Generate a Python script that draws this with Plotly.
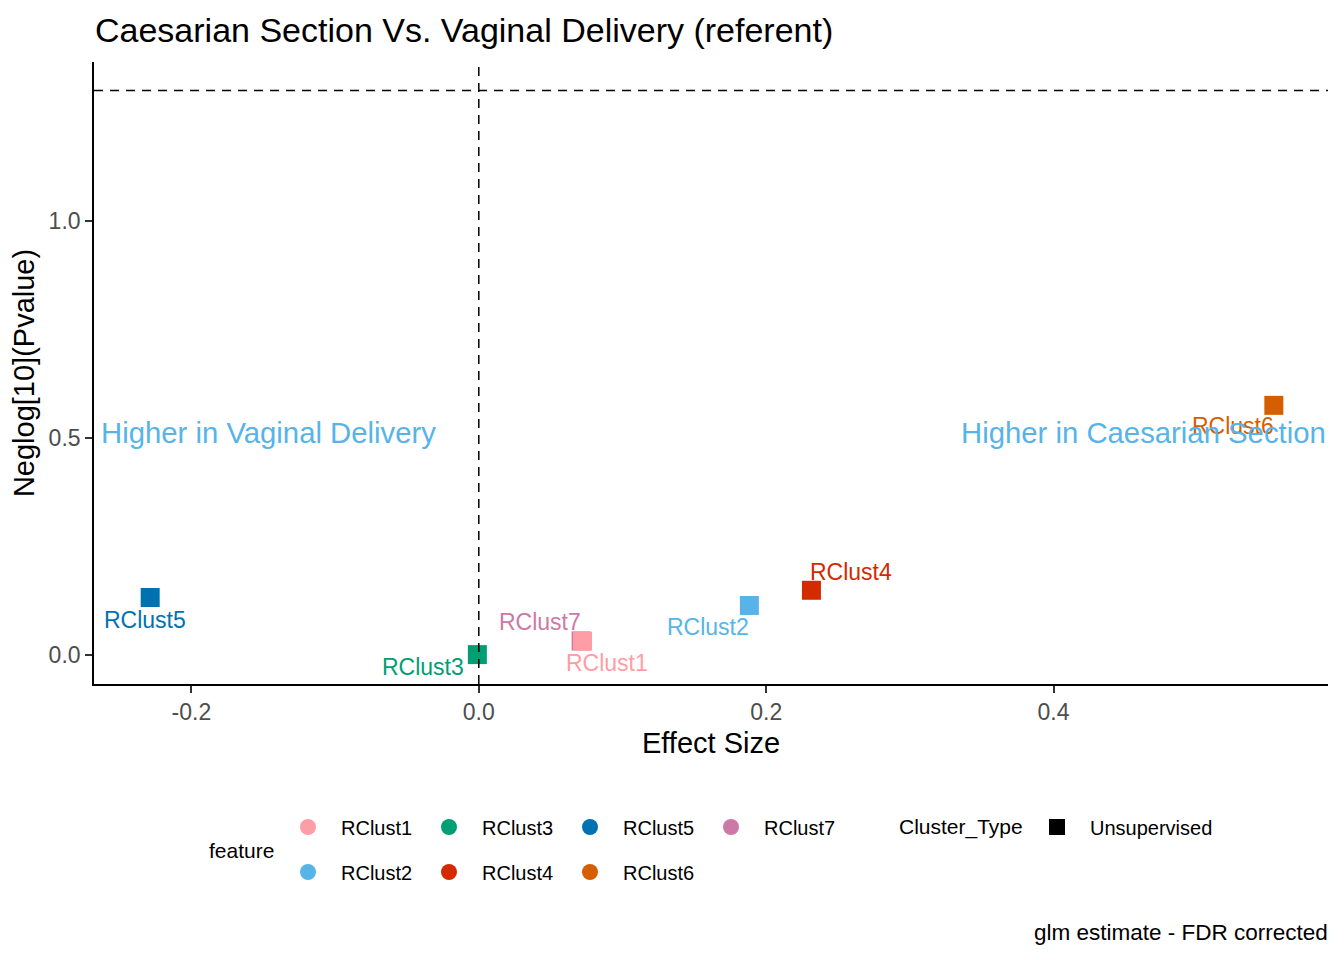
import math
import plotly.graph_objects as go

# glm results per cluster (Caesarian vs vaginal delivery)
features = ["RClust1", "RClust2", "RClust3", "RClust4", "RClust5", "RClust6", "RClust7"]
effect_size = [0.0722, 0.1883, -0.0010, 0.2315, -0.2287, 0.5533, 0.0712]
neglog_p = [0.0325, 0.1147, 0.0015, 0.1497, 0.1330, 0.5757, 0.0330]
cluster_type = ["Unsupervised"] * 7
p_cutoff = 0.05

colors = {
    "RClust1": "#FF9DA7", "RClust2": "#56B4E9", "RClust3": "#009E73",
    "RClust4": "#D42A00", "RClust5": "#0072B2", "RClust6": "#D55E00",
    "RClust7": "#CC79A7",
}

# label nudges in px (x right, y up)
label_shift = {
    "RClust1": (24, -22), "RClust2": (-41, -22), "RClust3": (-54, -12),
    "RClust4": (40, 18), "RClust5": (-5, -22), "RClust6": (-41, -21),
    "RClust7": (-41, 19),
}

FONT = "Liberation Sans, Arial, sans-serif"

# page has an 8px body margin, so the figure is drawn 8px in from the corner
OFF = 8
W, H = 1344 - OFF, 960 - OFF
# plot area in screen px
L, R, T, B = 94, 1328, 62, 684


def px2paper(px, py):
    return (px - L) / (R - L), (B - py) / (B - T)


def px2cont(px, py):
    return (px - OFF) / W, 1 - (py - OFF) / H


fig = go.Figure()

# draw RClust7 first so RClust1 sits on top of it
order = [6, 0, 1, 2, 3, 4, 5]
for i in order:
    f = features[i]
    fig.add_trace(go.Scatter(
        x=[effect_size[i]], y=[neglog_p[i]], mode="markers",
        marker=dict(symbol="square", size=19, color=colors[f], line=dict(width=0)),
        name=f, showlegend=False,
        hovertemplate=f + "<br>%{x:.3f}, %{y:.3f}<extra>" + cluster_type[i] + "</extra>",
    ))

# legend entries (circles, two rows filled column-wise like ggplot)
for i, f in enumerate(features):
    fig.add_trace(go.Scatter(
        x=[None], y=[None], mode="markers",
        marker=dict(symbol="circle", size=18, color=colors[f]),
        name=f, legend="legend" if i % 2 == 0 else "legend2",
    ))
fig.add_trace(go.Scatter(
    x=[None], y=[None], mode="markers",
    marker=dict(symbol="square", size=18, color="black"),
    name=cluster_type[0], legend="legend3",
))

# point labels
for i, f in enumerate(features):
    dx, dy = label_shift[f]
    fig.add_annotation(
        x=effect_size[i], y=neglog_p[i], text=f, showarrow=False,
        xshift=dx, yshift=dy, font=dict(family=FONT, size=23, color=colors[f]),
    )

# reference lines
fig.add_vline(x=0, line=dict(color="black", width=1.5, dash="9px,7px"))
fig.add_hline(y=-math.log10(p_cutoff), line=dict(color="black", width=1.5, dash="9px,7px"))

# direction labels
fig.add_annotation(
    x=-0.264, y=0.513, text="Higher in Vaginal Delivery", showarrow=False,
    xanchor="left", yanchor="middle", font=dict(family=FONT, size=29.3, color="#56B4E9"),
)
fig.add_annotation(
    x=0.591, y=0.513, text="Higher in Caesarian Section", showarrow=False,
    xanchor="right", yanchor="middle", font=dict(family=FONT, size=29.3, color="#56B4E9"),
)

# legend titles and caption
for txt, (px, py), anchor, size in [
    ("feature", (207, 850), "left", 21),
    ("Cluster_Type", (897, 827), "left", 21),
    ("glm estimate - FDR corrected", (1330, 933), "right", 22.5),
]:
    ax, ay = px2paper(px, py)
    fig.add_annotation(
        x=ax, y=ay, xref="paper", yref="paper", text=txt, showarrow=False,
        xanchor=anchor, yanchor="middle", font=dict(family=FONT, size=size, color="black"),
    )

leg = dict(orientation="h", xref="container", yref="container", xanchor="left",
           yanchor="middle", font=dict(family=FONT, size=20, color="black"),
           bgcolor="rgba(0,0,0,0)", entrywidth=70, itemwidth=56, itemclick=False)

lx1, ly1 = px2cont(308 - 33, 827)
lx2, ly2 = px2cont(308 - 33, 872)
lx3, ly3 = px2cont(1057 - 33, 827)

fig.update_layout(
    width=W, height=H,
    margin=dict(l=L - OFF, r=W - (R - OFF), t=T - OFF, b=H - (B - OFF)),
    plot_bgcolor="white", paper_bgcolor="white",
    font=dict(family=FONT, color="black"),
    title=dict(text="Caesarian Section Vs. Vaginal Delivery (referent)",
               x=px2cont(95, 30)[0], xanchor="left", xref="container",
               y=px2cont(95, 30)[1], yanchor="middle", yref="container",
               font=dict(family=FONT, size=34, color="black")),
    legend=dict(leg, x=lx1, y=ly1),
    legend2=dict(leg, x=lx2, y=ly2),
    legend3=dict(leg, x=lx3, y=ly3, entrywidth=150),
    xaxis=dict(
        range=[-0.2678, 0.591], tickvals=[-0.2, 0.0, 0.2, 0.4],
        ticktext=["-0.2", "0.0", "0.2", "0.4"],
        showgrid=False, zeroline=False, showline=True, linecolor="black", linewidth=1.6,
        ticks="outside", ticklen=7, tickwidth=1.6, tickcolor="#333333",
        tickfont=dict(family=FONT, size=23, color="#4D4D4D"),
        title=dict(text="Effect Size", font=dict(family=FONT, size=29, color="black"), standoff=8),
    ),
    yaxis=dict(
        range=[-0.0662, 1.3666], tickvals=[0.0, 0.5, 1.0],
        ticktext=["0.0", "0.5", "1.0"],
        showgrid=False, zeroline=False, showline=True, linecolor="black", linewidth=1.6,
        ticks="outside", ticklen=7, tickwidth=1.6, tickcolor="#333333",
        tickfont=dict(family=FONT, size=23, color="#4D4D4D"),
        title=dict(text="Neglog[10](Pvalue)", font=dict(family=FONT, size=29, color="black"), standoff=8),
    ),
)

fig.write_html("out.html")
